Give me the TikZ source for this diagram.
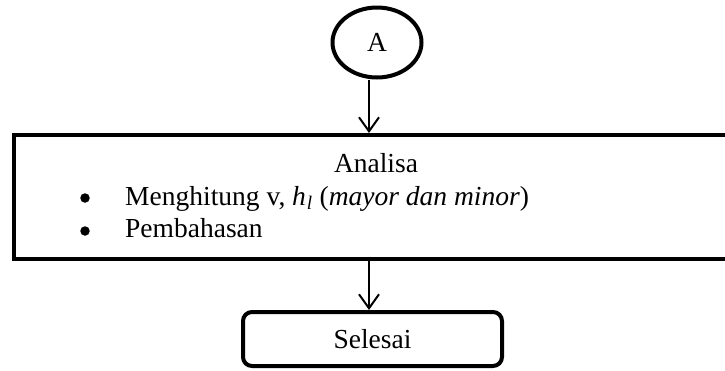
\documentclass[tikz,border=0pt]{standalone}
\usepackage{fontspec}
\setmainfont{Liberation Serif}
\usetikzlibrary{shapes.geometric,arrows.meta}
\begin{document}
\begin{tikzpicture}[x=1pt,y=-1pt,
  every node/.style={font=\fontsize{27.5}{32}\selectfont},
  arr/.style={line width=2pt,-{Straight Barb[length=14pt,width=20pt,line width=2pt]}},
  bullet/.style={circle,fill,minimum size=9.5pt,inner sep=0pt},
  txt/.style={inner sep=0pt}]
\clip (0,0) rectangle (725,370);
\node[draw,ellipse,line width=4pt,minimum width=89pt,minimum height=70pt,inner sep=0pt] (A) at (377,42.5) {A};
\node[draw,line width=4pt,minimum width=722pt,minimum height=124pt,inner sep=0pt] (box) at (375,197) {};
\node[txt,anchor=base] (t1) at (376,172) {Analisa};
\node[txt,anchor=base west] (t2) at (125,205) {Menghitung v, \textit{h}\kern1pt\textsubscript{\textit{l}} (\textit{mayor dan minor})};
\node[txt,anchor=base west] (t3) at (125,237) {Pembahasan};
\node[bullet] (b1) at (85,198) {};
\node[bullet] (b2) at (85,231) {};
\node[draw,rounded corners=9pt,line width=4pt,minimum width=259pt,minimum height=54pt,inner sep=0pt] (sel) at (372.5,339) {\raisebox{-2pt}{Selesai}};
\coordinate (ax) at (369,0);
\draw[arr] (A.south -| ax) -- (box.north -| ax);
\draw[arr] (box.south -| ax) -- (sel.north -| ax);
\end{tikzpicture}
\end{document}
